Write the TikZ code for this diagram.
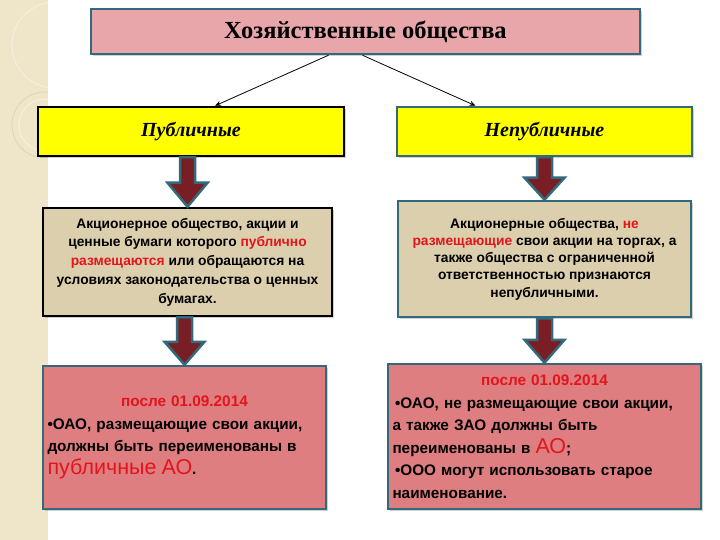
\documentclass[tikz,border=0pt]{standalone}
\usepackage{fontspec}
\setmainfont{Liberation Serif}
\setsansfont{Liberation Sans}
\usepackage{xcolor}
\usepackage{tikz}
\usetikzlibrary{arrows.meta,positioning,calc,shadows}
\definecolor{HozTeal}{HTML}{336A7B}
\definecolor{HozPink}{HTML}{E8A6AA}
\definecolor{HozYellow}{HTML}{FFFF00}
\definecolor{HozBeige}{HTML}{DCCFAE}
\definecolor{HozSalmon}{HTML}{DF7E80}
\definecolor{HozRed}{HTML}{E3141C}
\definecolor{HozWine}{HTML}{7A1E25}
\definecolor{HozStrip}{HTML}{EFE5C9}

\begin{document}
\begin{tikzpicture}[x=1pt, y=-1pt,
  box/.style={draw=#1, line width=2.5pt, inner sep=4pt, align=center,
    drop shadow={shadow xshift=2pt, shadow yshift=-2pt, fill=black, opacity=0.18}},
  head/.style={box=#1, fill=HozYellow, minimum height=49pt, font=\bfseries\itshape\fontsize{20}{24}\selectfont},
  defbox/.style={box=#1, fill=HozBeige, font=\sffamily\bfseries\fontsize{13.8}{18}\selectfont},
  newbox/.style={box=HozTeal, fill=HozSalmon, align=left, font=\sffamily\bfseries\fontsize{15.3}{22.5}\selectfont},
  blockarrow/.style={draw=HozTeal, fill=HozWine, line width=2.5pt, line join=miter},
  arrow/.style={-{Stealth[length=6pt,width=5pt]}, line width=0.8pt}
]
\useasboundingbox (0,0) rectangle (720,540);
\fill[white] (0,0) rectangle (720,540);

% left strip of the slide
\fill[HozStrip] (0,0) rectangle (48,540);
\begin{scope}
  \clip (0,0) rectangle (48,540);
  \draw[white!35!HozStrip, line width=1.2pt] (55,45) circle (43);
  \draw[HozStrip!92!black, line width=0.8pt] (45,125) circle (33);
  \draw[white!30!HozStrip, line width=1.5pt] (45,125) circle (26);
\end{scope}

\node[box=HozTeal, fill=HozPink, minimum width=549pt, minimum height=45pt, font=\bfseries\fontsize{24.5}{28}\selectfont] (title) at (365.5,31.5) {Хозяйственные общества};

\node[head=black, minimum width=306pt] (pub) at (191,131.5) {Публичные};
\node[head=HozTeal, minimum width=295pt] (npub) at (544.5,131.5) {Непубличные};

\node[defbox=black, minimum width=289pt, minimum height=108pt, font=\sffamily\bfseries\fontsize{13.8}{18.8}\selectfont] (pubdef) at (187.5,262) {Акционерное общество, акции и\\ ценные бумаги которого {\color{HozRed}публично}\\ {\color{HozRed}размещаются} или обращаются на\\ условиях законодательства о ценных\\ бумагах.};
\node[defbox=HozTeal, minimum width=293pt, minimum height=116pt, font=\sffamily\bfseries\fontsize{13.8}{17.2}\selectfont] (npubdef) at (544.5,259) {Акционерные общества, {\color{HozRed}не}\\ {\color{HozRed}размещающие} свои акции на торгах, а\\ также общества с ограниченной\\ ответственностью признаются\\ непубличными.};

\node[newbox, minimum width=283pt, minimum height=143pt, text width=274pt] (pubnew) at (184.5,437.5) {\makebox[\linewidth]{\color{HozRed}после 01.09.2014}\\ •ОАО, размещающие свои акции,\\ должны быть переименованы в\\ {\color{HozRed}\mdseries\fontsize{21.5}{24}\selectfont публичные АО}.};
\node[newbox, minimum width=313pt, minimum height=145pt, text width=304pt] (npubnew) at (544.5,436.5) {\makebox[\linewidth]{\color{HozRed}после 01.09.2014}\\ \,•ОАО, не размещающие свои акции,\\ а также ЗАО должны быть\\ переименованы в {\color{HozRed}\mdseries\fontsize{21.5}{24}\selectfont АО};\\ \,•ООО могут использовать старое\\ наименование.};

\draw[arrow] ([xshift=-37pt]title.south) -- ([xshift=24pt]pub.north);
\draw[arrow] ([xshift=-3pt]title.south) -- ([xshift=-69pt]npub.north);

\draw[blockarrow] let \p1=(pub.south), \p2=(pubdef.north) in (\x2-7.5pt,\y1) -- (\x2+7.5pt,\y1) -- (\x2+7.5pt,\y2+24pt) -- (\x2+20pt,\y2+24pt) -- (\x2,\y2) -- (\x2-20pt,\y2+24pt) -- (\x2-7.5pt,\y2+24pt) -- cycle;
\draw[blockarrow] let \p1=(npub.south), \p2=(npubdef.north) in (\x2-7.5pt,\y1) -- (\x2+7.5pt,\y1) -- (\x2+7.5pt,\y2+22pt) -- (\x2+20pt,\y2+22pt) -- (\x2,\y2) -- (\x2-20pt,\y2+22pt) -- (\x2-7.5pt,\y2+22pt) -- cycle;
\draw[blockarrow] let \p1=(pubdef.south), \p2=(pubnew.north) in (\x2-7.5pt,\y1) -- (\x2+7.5pt,\y1) -- (\x2+7.5pt,\y2+23pt) -- (\x2+20pt,\y2+23pt) -- (\x2,\y2) -- (\x2-20pt,\y2+23pt) -- (\x2-7.5pt,\y2+23pt) -- cycle;
\draw[blockarrow] let \p1=(npubdef.south), \p2=(npubnew.north) in (\x2-7.5pt,\y1) -- (\x2+7.5pt,\y1) -- (\x2+7.5pt,\y2+23pt) -- (\x2+20pt,\y2+23pt) -- (\x2,\y2) -- (\x2-20pt,\y2+23pt) -- (\x2-7.5pt,\y2+23pt) -- cycle;
\end{tikzpicture}
\end{document}
